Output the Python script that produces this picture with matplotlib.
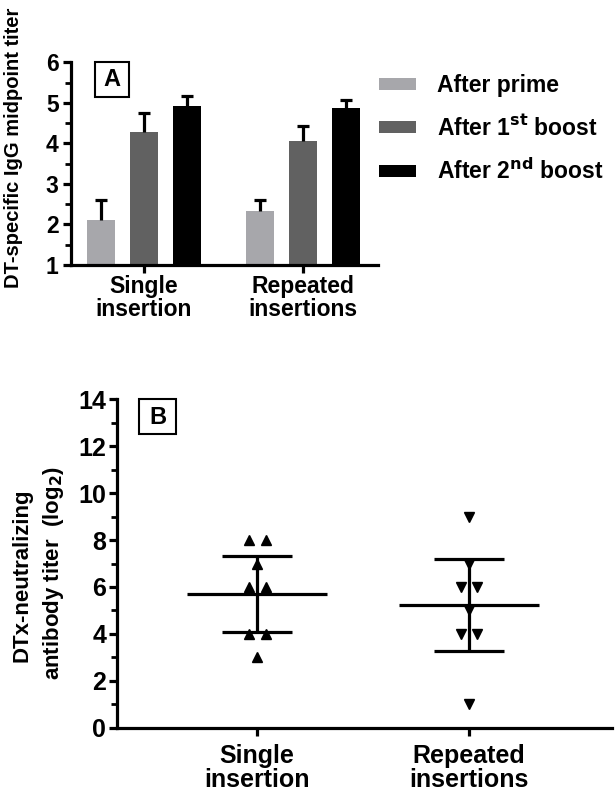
import numpy as np
import matplotlib
matplotlib.use("Agg")
import matplotlib.pyplot as plt
from matplotlib.patches import Rectangle

plt.rcParams['font.family'] = ['Liberation Sans', 'DejaVu Sans']
plt.rcParams['font.weight'] = 'bold'

# ---------------- data ----------------
groups = ["Single\ninsertion", "Repeated\ninsertions"]
series_names = ["After prime", "After 1$^{\\mathbf{st}}$ boost", "After 2$^{\\mathbf{nd}}$ boost"]
igg_mean = {
    "After prime": [2.11, 2.33],
    "After 1st boost": [4.28, 4.06],
    "After 2nd boost": [4.91, 4.87],
}
igg_err = {
    "After prime": [0.49, 0.27],
    "After 1st boost": [0.48, 0.37],
    "After 2nd boost": [0.27, 0.19],
}
series_keys = ["After prime", "After 1st boost", "After 2nd boost"]
series_colors = ["#a7a7ab", "#616161", "#000000"]

single_points = [8, 8, 7, 6, 6, 4, 4, 3]
repeated_points = [9, 7, 6, 6, 5, 4, 4, 1]
b_means = [5.72, 5.23]
b_sd = [1.62, 1.97]

# ---------------- figure ----------------
fig = plt.figure(figsize=(6.15, 7.94), dpi=100)

# Panel A
axA = fig.add_axes([71/615, 1-265/794, (378-71)/615, (265-62.3)/794])
x = np.arange(len(groups))
bw = 0.178
step = 0.271
for i, (k, c) in enumerate(zip(series_keys, series_colors)):
    xpos = x + (i-1)*step
    axA.bar(xpos, np.array(igg_mean[k]) - 1, bottom=1, width=bw, color=c,
            label=series_names[i], zorder=2)
    _, caps, _ = axA.errorbar(xpos, igg_mean[k], yerr=[np.zeros(len(groups)), igg_err[k]],
                              fmt='none', ecolor='black', elinewidth=2.3, capsize=4.5,
                              capthick=2.3, zorder=3)
    caps[0].set_visible(False)
axA.set_ylim(1, 6)
axA.set_xlim(-0.46, 1.475)
axA.set_yticks([1, 2, 3, 4, 5, 6])
axA.set_yticks(np.arange(1.5, 6, 1), minor=True)
axA.set_xticks(x)
axA.set_xticklabels(groups, fontsize=16, fontweight='bold', linespacing=0.95)
for s in ['top', 'right']:
    axA.spines[s].set_visible(False)
for s in ['left', 'bottom']:
    axA.spines[s].set_linewidth(2.3)
axA.tick_params(axis='both', which='major', direction='out', length=6, width=2.3,
                labelsize=16.5)
axA.tick_params(axis='y', which='minor', direction='out', length=4, width=2.0)
axA.tick_params(axis='x', pad=1.5)
axA.tick_params(axis='y', pad=3)
for t in axA.get_yticklabels():
    t.set_fontweight('bold')
fig.text(14/615, 1-148/794, "DT-specific IgG midpoint titer", rotation=90,
         ha='center', va='center', fontsize=14.5, fontweight='bold')
# box A
fig.patches.append(Rectangle((95/615, 1-97/794), 34/615, 35/794, fill=False,
                             edgecolor='black', lw=1.5, transform=fig.transFigure))
fig.text(112/615, 1-80/794, "A", ha='center', va='center', fontsize=17, fontweight='bold')

leg = axA.legend(loc='upper left', bbox_to_anchor=(379/615, 1-74/794),
                 bbox_transform=fig.transFigure, frameon=False, fontsize=16.5,
                 handlelength=1.6, handleheight=0.45, labelspacing=0.8,
                 handletextpad=0.95, borderaxespad=0, borderpad=0)
for t in leg.get_texts():
    t.set_fontweight('bold')

# Panel B
axB = fig.add_axes([117.3/615, 1-727.7/794, (612-117.3)/615, (727.7-399.3)/794])
all_points = [single_points, repeated_points]
markers = ['^', 'v']
mean_hw = 0.33
cap_hw = 0.165
off = 0.04
for i, pts in enumerate(all_points):
    pts = np.array(pts, dtype=float)
    xs = np.full(len(pts), float(i))
    for v in np.unique(pts):
        idx = np.where(pts == v)[0]
        n = len(idx)
        if n > 1:
            xs[idx] = i + (np.arange(n) - (n-1)/2) * 2*off
    axB.plot(xs, pts, linestyle='none', marker=markers[i], color='black',
             markersize=6.5, zorder=4)
    m, s = b_means[i], b_sd[i]
    axB.hlines(m, i-mean_hw, i+mean_hw, color='black', lw=2.3, zorder=3)
    axB.hlines([m-s, m+s], i-cap_hw, i+cap_hw, color='black', lw=2.3, zorder=3)
    axB.vlines(i, m-s, m+s, color='black', lw=2.3, zorder=3)
axB.set_ylim(0, 14)
axB.set_xlim(-0.66, 1.675)
axB.set_yticks(np.arange(0, 15, 2))
axB.set_yticks(np.arange(1, 14, 2), minor=True)
axB.set_xticks([0, 1])
axB.set_xticklabels(groups, fontsize=17, fontweight='bold', linespacing=1.0)
for s in ['top', 'right']:
    axB.spines[s].set_visible(False)
for s in ['left', 'bottom']:
    axB.spines[s].set_linewidth(2.3)
axB.tick_params(axis='both', which='major', direction='out', length=6, width=2.3,
                labelsize=18)
axB.tick_params(axis='y', which='minor', direction='out', length=4, width=2.0)
axB.tick_params(axis='x', pad=6)
axB.tick_params(axis='y', pad=2)
for t in axB.get_yticklabels():
    t.set_fontweight('bold')
fig.text(22/615, 1-575/794, "DTx-neutralizing", rotation=90, ha='center',
         va='center', fontsize=16, fontweight='bold')
fig.text(53/615, 1-573/794, "antibody titer  (log$_{\\mathbf{2}}$)", rotation=90,
         ha='center', va='center', fontsize=16, fontweight='bold')
fig.patches.append(Rectangle((139.3/615, 1-434.3/794), 36.4/615, 35/794, fill=False,
                             edgecolor='black', lw=1.5, transform=fig.transFigure))
fig.text(157.5/615, 1-417/794, "B", ha='center', va='center', fontsize=17, fontweight='bold')

fig.savefig("out.png", dpi=100)
